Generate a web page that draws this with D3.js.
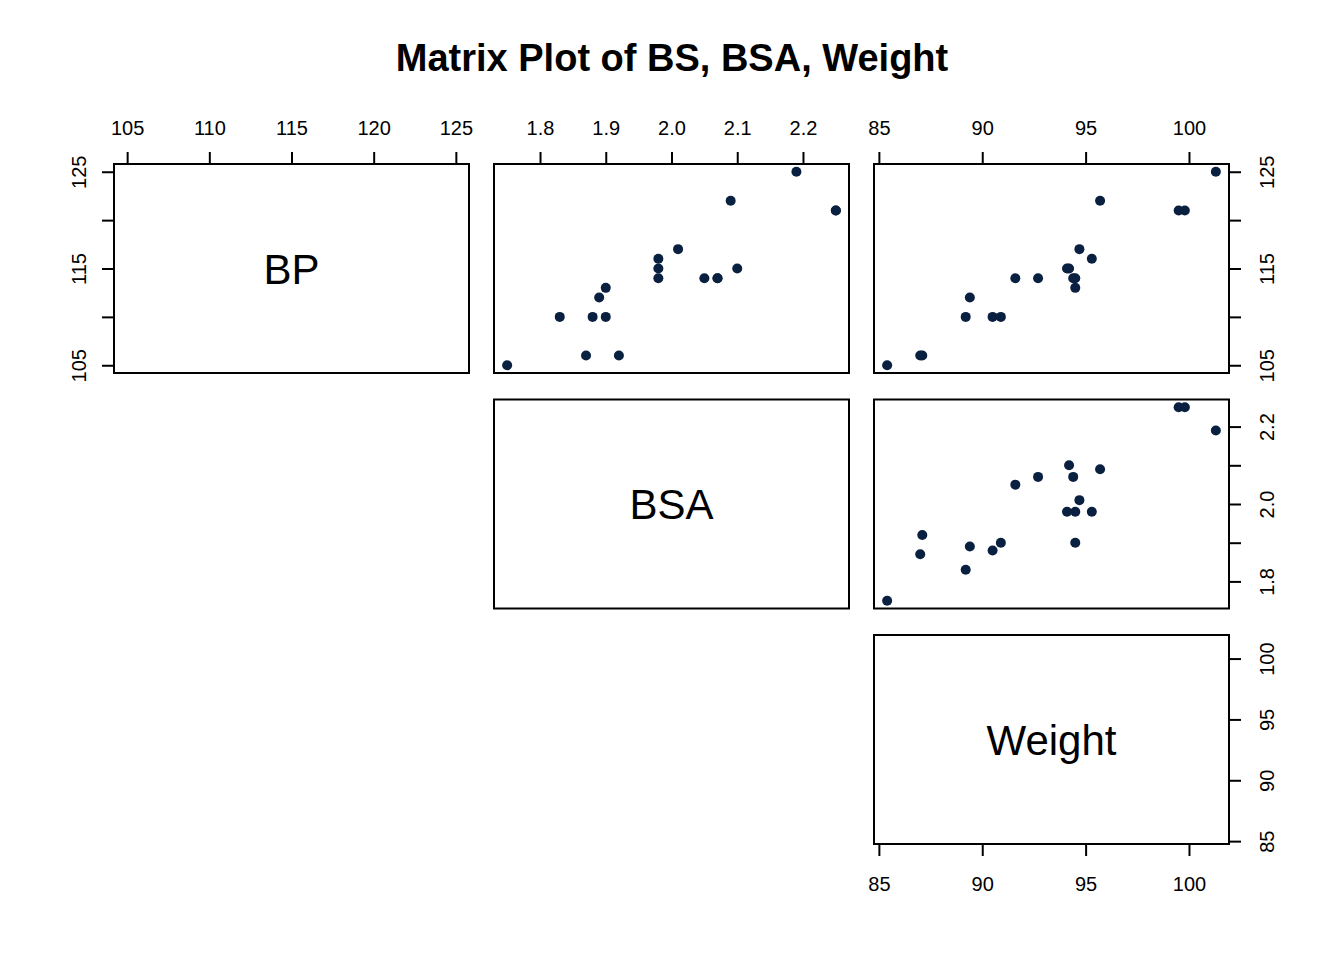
<!DOCTYPE html>
<html>
<head>
<meta charset="utf-8">
<script src="https://cdn.jsdelivr.net/npm/d3@7"></script>
<style>
  body { margin: 0; background: #ffffff; }
  text { font-family: "Liberation Sans", Arial, sans-serif; fill: #000; }
</style>
</head>
<body>
<div id="chart"></div>
<script>
// bloodpress data, 20 patients
let bp = [105, 115, 116, 117, 112, 121, 121, 110, 110, 114, 114, 115, 114, 106, 125, 114, 106, 113, 110, 122];
let bsa = [1.75, 2.10, 1.98, 2.01, 1.89, 2.25, 2.25, 1.90, 1.83, 2.07, 2.07, 1.98, 2.05, 1.92, 2.19, 1.98, 1.87, 1.90, 1.88, 2.09];
let weight = [85.4, 94.2, 95.3, 94.7, 89.4, 99.5, 99.8, 90.9, 89.2, 92.7, 94.4, 94.1, 91.6, 87.1, 101.3, 94.5, 87.0, 94.5, 90.5, 95.7];

let varNames = ["BP", "BSA", "Weight"];
let bpTicks = [105, 110, 115, 120, 125];
let bsaTicks = [1.8, 1.9, 2.0, 2.1, 2.2];
let weightTicks = [85, 90, 95, 100];
let bpSideLabels = [105, 115, 125];
let bsaSideLabels = [1.8, 2.0, 2.2];

let width = 1344, height = 960;
let gridLeft = 114, gridTop = 164; //px
let cellW = 355, cellH = 209; //px
let gapX = 25, gapY = 26.5; //px
let tickLen = 12;
let dotColor = "#0a2040";

let svg = d3.select("#chart")
    .append("svg")
    .attr("width", width)
    .attr("height", height);

svg.append("rect")
    .attr("width", "100%")
    .attr("height", "100%")
    .attr("fill", "#ffffff");

svg.append("text")
    .attr("x", 672)
    .attr("y", 71)
    .style("text-anchor", "middle")
    .style("font-weight", "bold")
    .style("font-size", "38px")
    .text("Matrix Plot of BS, BSA, Weight");

let columns = [bp, bsa, weight];
let ticksFor = [bpTicks, bsaTicks, weightTicks];
let sideLabels = [bpSideLabels, bsaSideLabels, weightTicks];

// R style range: extend by 4% each side
function padded(vals) {
    let ext = d3.extent(vals);
    let pad = (ext[1] - ext[0]) * 0.04;
    return [ext[0] - pad, ext[1] + pad];
}

let cellX = (j) => gridLeft + j * (cellW + gapX);
let cellY = (i) => gridTop + i * (cellH + gapY);

let xScales = columns.map((v, j) => d3.scaleLinear().domain(padded(v)).range([cellX(j), cellX(j) + cellW]));
let yScales = columns.map((v, i) => d3.scaleLinear().domain(padded(v)).range([cellY(i) + cellH, cellY(i)]));

function fmt(j) {
    return j == 1 ? d3.format(".1f") : d3.format("d");
}

function styleAxis(g) {
    g.select(".domain").remove();
    g.selectAll(".tick line").attr("stroke", "#000").attr("stroke-width", 2);
    g.selectAll(".tick text").style("font-size", "20px").attr("fill", "#000");
}

for (let i = 0; i < 3; i++) {
    for (let j = i; j < 3; j++) {
        let x0 = cellX(j), y0 = cellY(i);
        let g = svg.append("g");

        if (i == j) {
            g.append("text")
                .attr("x", x0 + cellW / 2)
                .attr("y", y0 + cellH / 2 + 15)
                .style("text-anchor", "middle")
                .style("font-size", "42px")
                .text(varNames[i]);
        } else {
            let xs = xScales[j], ys = yScales[i];
            g.selectAll("circle")
                .data(columns[j].map((d, k) => [d, columns[i][k]]))
                .join("circle")
                .attr("cx", d => xs(d[0]))
                .attr("cy", d => ys(d[1]))
                .attr("r", 5)
                .attr("fill", dotColor);
        }

        g.append("rect")
            .attr("x", x0)
            .attr("y", y0)
            .attr("width", cellW)
            .attr("height", cellH)
            .attr("fill", "none")
            .attr("stroke", "#000")
            .attr("stroke-width", 2);
    }
}

/*---------------
 // top axes
 ----------------*/
for (let j = 0; j < 3; j++) {
    let ax = d3.axisTop(xScales[j])
        .tickValues(ticksFor[j])
        .tickFormat(fmt(j))
        .tickSize(tickLen)
        .tickSizeOuter(0)
        .tickPadding(17);
    svg.append("g")
        .attr("transform", "translate(0," + cellY(0) + ")")
        .call(ax)
        .call(styleAxis);
}

// bottom axis under Weight
svg.append("g")
    .attr("transform", "translate(0," + (cellY(2) + cellH) + ")")
    .call(d3.axisBottom(xScales[2])
        .tickValues(weightTicks)
        .tickFormat(fmt(2))
        .tickSize(tickLen)
        .tickSizeOuter(0)
        .tickPadding(21))
    .call(styleAxis);

/*---------------
 // side axes (rotated labels)
 ----------------*/
function sideAxis(i, isLeft) {
    let f = fmt(i);
    let shown = sideLabels[i].map(f);
    let ax = (isLeft ? d3.axisLeft(yScales[i]) : d3.axisRight(yScales[i]))
        .tickValues(ticksFor[i])
        .tickFormat(d => shown.includes(f(d)) ? f(d) : "")
        .tickSize(tickLen)
        .tickSizeOuter(0);
    let xPos = isLeft ? cellX(0) : cellX(2) + cellW;
    let g = svg.append("g")
        .attr("transform", "translate(" + xPos + ",0)")
        .call(ax)
        .call(styleAxis);
    g.selectAll(".tick text")
        .attr("x", null)
        .attr("dy", null)
        .style("text-anchor", "middle")
        .attr("transform", isLeft ? "translate(-28,0) rotate(-90)" : "translate(45,0) rotate(-90)");
}

sideAxis(0, true);
for (let i = 0; i < 3; i++) sideAxis(i, false);
</script>
</body>
</html>
